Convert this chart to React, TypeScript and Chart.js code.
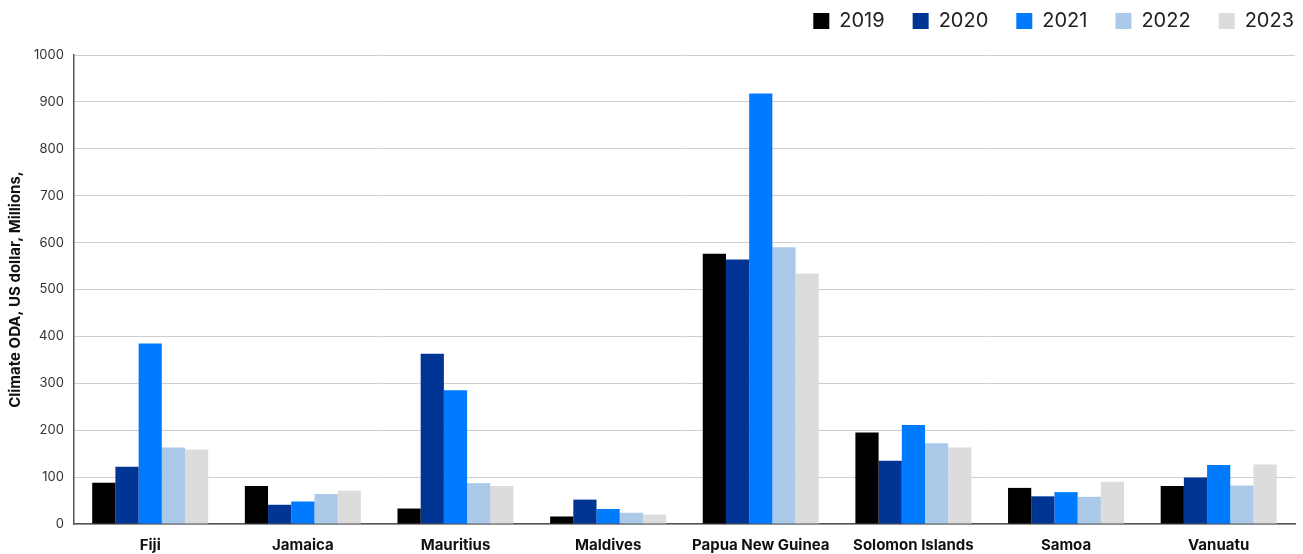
import React, { useEffect, useRef } from "react";
import { Chart, registerables } from "chart.js";

Chart.register(...registerables);

const categories = ["Fiji", "Jamaica", "Mauritius", "Maldives", "Papua New Guinea", "Solomon Islands", "Samoa", "Vanuatu"];
const years = ["2019", "2020", "2021", "2022", "2023"];
const v2019 = [88, 81, 33, 16, 576, 195, 77, 81];
const v2020 = [122, 41, 363, 52, 564, 135, 59, 99];
const v2021 = [385, 48, 285, 32, 918, 211, 68, 126];
const v2022 = [163, 64, 87, 24, 590, 172, 58, 82];
const v2023 = [159, 71, 81, 20, 534, 163, 90, 127];
const colors = ["#000000", "#003594", "#007BFF", "#ABCAE9", "#DCDCDC"];
const yTicks = [0, 100, 200, 300, 400, 500, 600, 700, 800, 900, 1000];

const LEGEND_H = 55;
const LEGEND_DX = 27;
const LEGEND_DY = -17;

const legendFix = {
  id: "legendFix",
  beforeLayout(chart: any) {
    const lg = chart.legend;
    if (lg && !lg._patched) {
      lg._patched = true;
      const fit = lg.fit.bind(lg);
      lg.fit = function () {
        fit();
        this.height = LEGEND_H;
      };
      const draw = lg.draw.bind(lg);
      lg.draw = function () {
        const ctx = this.ctx;
        ctx.save();
        ctx.translate(LEGEND_DX, LEGEND_DY);
        draw();
        ctx.restore();
      };
    }
  },
};

export default function App() {
  const ref = useRef<HTMLCanvasElement>(null);
  useEffect(() => {
    const series = [v2019, v2020, v2021, v2022, v2023];
    const chart = new Chart(ref.current!, {
      type: "bar",
      data: {
        labels: categories,
        datasets: years.map((y, i) => ({
          label: y,
          data: series[i],
          backgroundColor: colors[i],
          borderWidth: 0,
          barPercentage: 1,
          categoryPercentage: 0.76,
        })),
      },
      plugins: [legendFix],
      options: {
        animation: false,
        responsive: false,
        layout: { padding: { left: 6, right: 8, top: 0, bottom: -12 } },
        plugins: {
          tooltip: { enabled: false },
          legend: {
            position: "top",
            align: "end",
            labels: {
              boxWidth: 16,
              boxHeight: 16,
              padding: 28,
              color: "#222",
              font: { family: "Inter", size: 20 },
            },
          },
        },
        scales: {
          x: {
            grid: { display: false, drawTicks: false },
            border: { color: "#555", width: 1.5 },
            ticks: { color: "#111", font: { family: "Inter", size: 15, weight: "bold" }, padding: 12 },
          },
          y: {
            min: 0,
            max: 1000,
            afterBuildTicks: (s: any) => { s.ticks = yTicks.map((v) => ({ value: v })); },
            grid: { color: "#cfcfcf", drawTicks: false },
            border: { color: "#555", width: 1.5 },
            ticks: {
              color: "#333",
              font: { family: "Inter", size: 13 },
              padding: 10,
              callback: (v: any) => String(v),
            },
            title: {
              display: true,
              text: "Climate ODA, US dollar, Millions,",
              color: "#111",
              font: { family: "Inter", size: 15, weight: "bold" },
              padding: { top: 0, bottom: 0 },
            },
          },
        },
      },
    });
    return () => chart.destroy();
  }, []);
  return (
    <div style={{ position: "fixed", left: 0, top: 0, width: 1303, height: 554, background: "#fff" }}>
      <canvas ref={ref} width={1303} height={554} style={{ width: 1303, height: 554 }} />
    </div>
  );
}
